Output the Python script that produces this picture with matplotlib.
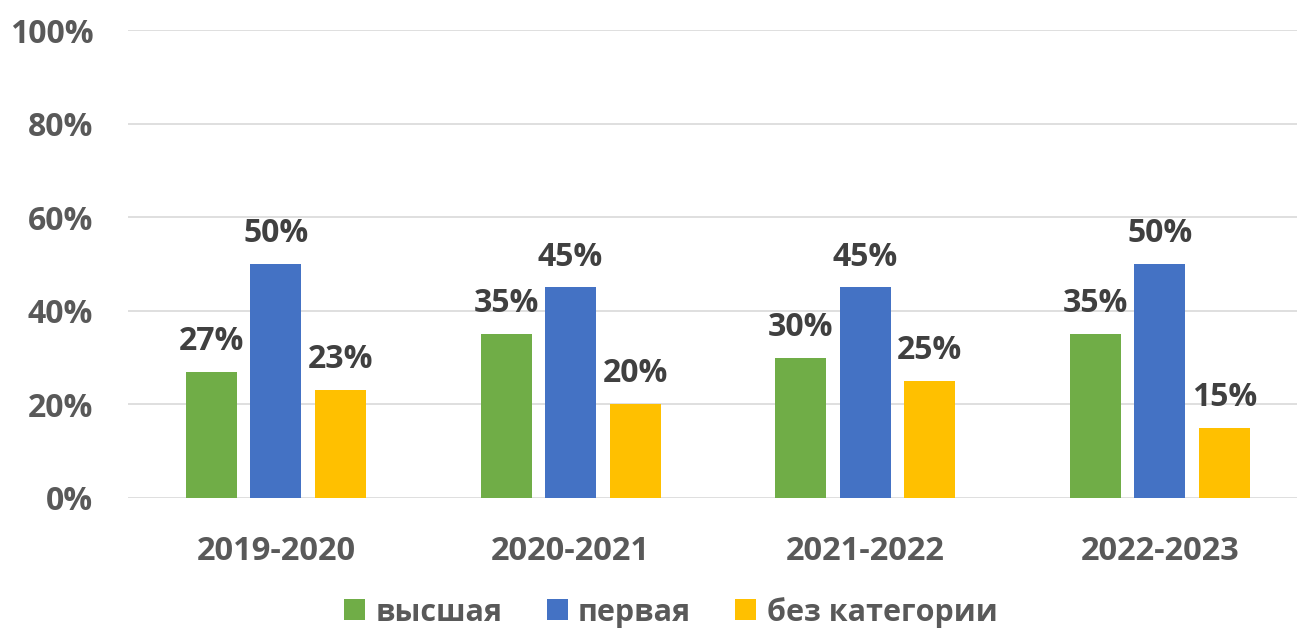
import numpy as np
import matplotlib.pyplot as plt

years = ["2019-2020", "2020-2021", "2021-2022", "2022-2023"]
vysshaya = [27, 35, 30, 35]
pervaya = [50, 45, 45, 50]
bez_kat = [23, 20, 25, 15]
series_names = ["высшая", "первая", "без категории"]
colors = ["#70AD47", "#4472C4", "#FFC000"]

plt.rcParams['font.family'] = ['Open Sans', 'DejaVu Sans']
lbl_col = "#404040"
tick_col = "#595959"

fig = plt.figure(figsize=(13, 6.33), dpi=100)
ax = fig.add_axes([0.0985, 0.2133, 0.899, 0.7393])

x = np.arange(len(years))
w = 0.173
step = 0.219
for i, (vals, name, c) in enumerate(zip([vysshaya, pervaya, bez_kat], series_names, colors)):
    pos = x + (i - 1) * step
    bars = ax.bar(pos, vals, width=w, color=c, label=name, zorder=3)
    for b, v in zip(bars, vals):
        ax.annotate(f"{v}%", (b.get_x() + b.get_width() / 2, v), xytext=(0, 10),
                    textcoords="offset points", ha="center", va="bottom",
                    fontsize=23, fontweight="bold", color=lbl_col)

ax.set_ylim(0, 100)
ax.set_xlim(-0.502, 3.465)
ax.set_yticks(range(0, 101, 20))
ax.set_yticklabels([f"{t}%" for t in range(0, 101, 20)])
ax.set_xticks(x)
ax.set_xticklabels(years)
ax.tick_params(axis="both", length=0, labelsize=23, labelcolor=tick_col)
ax.tick_params(axis="x", labelsize=23.5, pad=27)
ax.tick_params(axis="y", pad=25)
for lab in ax.get_xticklabels() + ax.get_yticklabels():
    lab.set_fontweight("bold")
ax.grid(axis="y", color="#D9D9D9", linewidth=1.2, zorder=0)
for s in ax.spines.values():
    s.set_visible(False)

leg = fig.legend(loc="center", bbox_to_anchor=(0.516, 0.033), ncol=3, frameon=False,
                 fontsize=22, handlelength=0.69, handleheight=0.69, handletextpad=0.33,
                 columnspacing=1.45, borderpad=0)
for t in leg.get_texts():
    t.set_color(tick_col)
    t.set_fontweight("bold")

fig.savefig("out.png", dpi=100)
